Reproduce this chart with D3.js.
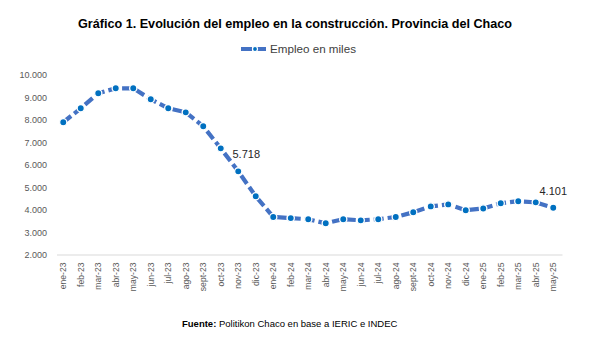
<!DOCTYPE html>
<html>
<head>
<meta charset="utf-8">
<script src="https://cdn.jsdelivr.net/npm/d3@7"></script>
<style>
  body { margin: 0; background: #fff; }
  text { font-family: "Liberation Sans", Arial, sans-serif; }
</style>
</head>
<body>
<div id="chart"></div>
<script>
var width = 602,
    height = 346;

// data (thousands of jobs)
var months = ['ene-23','feb-23','mar-23','abr-23','may-23','jun-23','jul-23','ago-23','sept-23','oct-23','nov-23','dic-23',
              'ene-24','feb-24','mar-24','abr-24','may-24','jun-24','jul-24','ago-24','sept-24','oct-24','nov-24','dic-24',
              'ene-25','feb-25','mar-25','abr-25','may-25'];
var empleo = [7900, 8520, 9190, 9410, 9410, 8920, 8520, 8340, 7720, 6740, 5718, 4610,
              3690, 3640, 3590, 3410, 3590, 3540, 3590, 3690, 3900, 4160, 4250, 3990,
              4070, 4300, 4390, 4340, 4101];
var yTicks = [2000, 3000, 4000, 5000, 6000, 7000, 8000, 9000, 10000];
var labelled = ['nov-23', 'may-25'];

var fmt = function(v) { return d3.format(',')(v).replace(/,/g, '.'); };

var svg = d3.select('#chart').append('svg')
    .attr('width', width)
    .attr('height', height);

var x = d3.scaleBand()
    .domain(months)
    .range([54.5, 562]);

var y = d3.scaleLinear()
    .domain([2000, 10000])
    .range([255, 75]);

function cx(i) { return x(months[i]) + x.bandwidth() / 2; }

// title
svg.append('text')
    .attr('x', 78).attr('y', 28)
    .attr('textLength', 434)
    .attr('lengthAdjust', 'spacingAndGlyphs')
    .style('font-size', '12.5px')
    .style('font-weight', 'bold')
    .attr('fill', '#000')
    .text('Gráfico 1. Evolución del empleo en la construcción. Provincia del Chaco');

// legend
var lg = svg.append('g');
lg.append('line')
    .attr('x1', 241).attr('x2', 269).attr('y1', 49).attr('y2', 49)
    .attr('stroke', '#4472C4').attr('stroke-width', 4.2)
    .attr('stroke-dasharray', '11,3');
lg.append('circle')
    .attr('cx', 255).attr('cy', 49).attr('r', 2.5)
    .attr('fill', '#0070C0').attr('stroke', '#fff').attr('stroke-width', 1.2);
lg.append('text')
    .attr('x', 270).attr('y', 53)
    .attr('textLength', 86)
    .attr('lengthAdjust', 'spacingAndGlyphs')
    .style('font-size', '11px')
    .attr('fill', '#404040')
    .text('Empleo en miles');

// y axis (labels only)
var yAxis = d3.axisLeft(y)
    .tickValues(yTicks)
    .tickSize(0)
    .tickPadding(0)
    .tickFormat(fmt);

svg.append('g')
    .attr('transform', 'translate(47,0)')
    .call(yAxis)
    .call(function(g) { g.select('.domain').remove(); })
    .selectAll('text')
    .style('font-size', '9px')
    .style('font-family', '"Liberation Sans", Arial, sans-serif')
    .attr('fill', '#595959');

// x axis
var xAxis = d3.axisBottom(x).tickSize(0).tickPadding(0);

var gx = svg.append('g')
    .attr('transform', 'translate(0,255)')
    .call(xAxis);
gx.select('.domain')
    .attr('stroke', '#d9d9d9')
    .attr('stroke-width', 1.2)
    .attr('d', 'M57,0H562.5');
gx.selectAll('text')
    .style('font-size', '8.6px')
    .style('font-family', '"Liberation Sans", Arial, sans-serif')
    .attr('fill', '#595959')
    .attr('text-anchor', 'end')
    .attr('transform', 'rotate(-90)')
    .attr('x', -7.5)
    .attr('y', 0)
    .attr('dy', '0.35em');

// line
var line = d3.line()
    .x(function(d, i) { return cx(i); })
    .y(function(d) { return y(d); });

svg.append('path')
    .datum(empleo)
    .attr('d', line)
    .attr('fill', 'none')
    .attr('stroke', '#4472C4')
    .attr('stroke-width', 4.2)
    .attr('stroke-dasharray', '10,4');

svg.selectAll('circle.pt')
    .data(empleo)
    .enter().append('circle')
    .attr('class', 'pt')
    .attr('cx', function(d, i) { return cx(i); })
    .attr('cy', function(d) { return y(d); })
    .attr('r', 3.6)
    .attr('fill', '#0070C0')
    .attr('stroke', '#fff')
    .attr('stroke-width', 1.3);

// data labels: nov-23 sits up-right of its point, may-25 is centred above
var lblIdx = labelled.map(function(m) { return months.indexOf(m); });
svg.selectAll('text.lbl')
    .data(lblIdx)
    .enter().append('text')
    .attr('class', 'lbl')
    .attr('x', function(i, k) { return cx(i) + (k === 0 ? 8 : 0); })
    .attr('y', function(i, k) { return y(empleo[i]) - (k === 0 ? 13 : 13); })
    .attr('text-anchor', 'middle')
    .style('font-size', '11px')
    .attr('fill', '#262626')
    .text(function(i) { return fmt(empleo[i]); });

// source
var src = svg.append('text')
    .attr('x', 182).attr('y', 327)
    .style('font-size', '9.5px')
    .attr('fill', '#000');
src.append('tspan').style('font-weight', 'bold').text('Fuente:');
src.append('tspan').text(' Politikon Chaco en base a IERIC e INDEC');
</script>
</body>
</html>
